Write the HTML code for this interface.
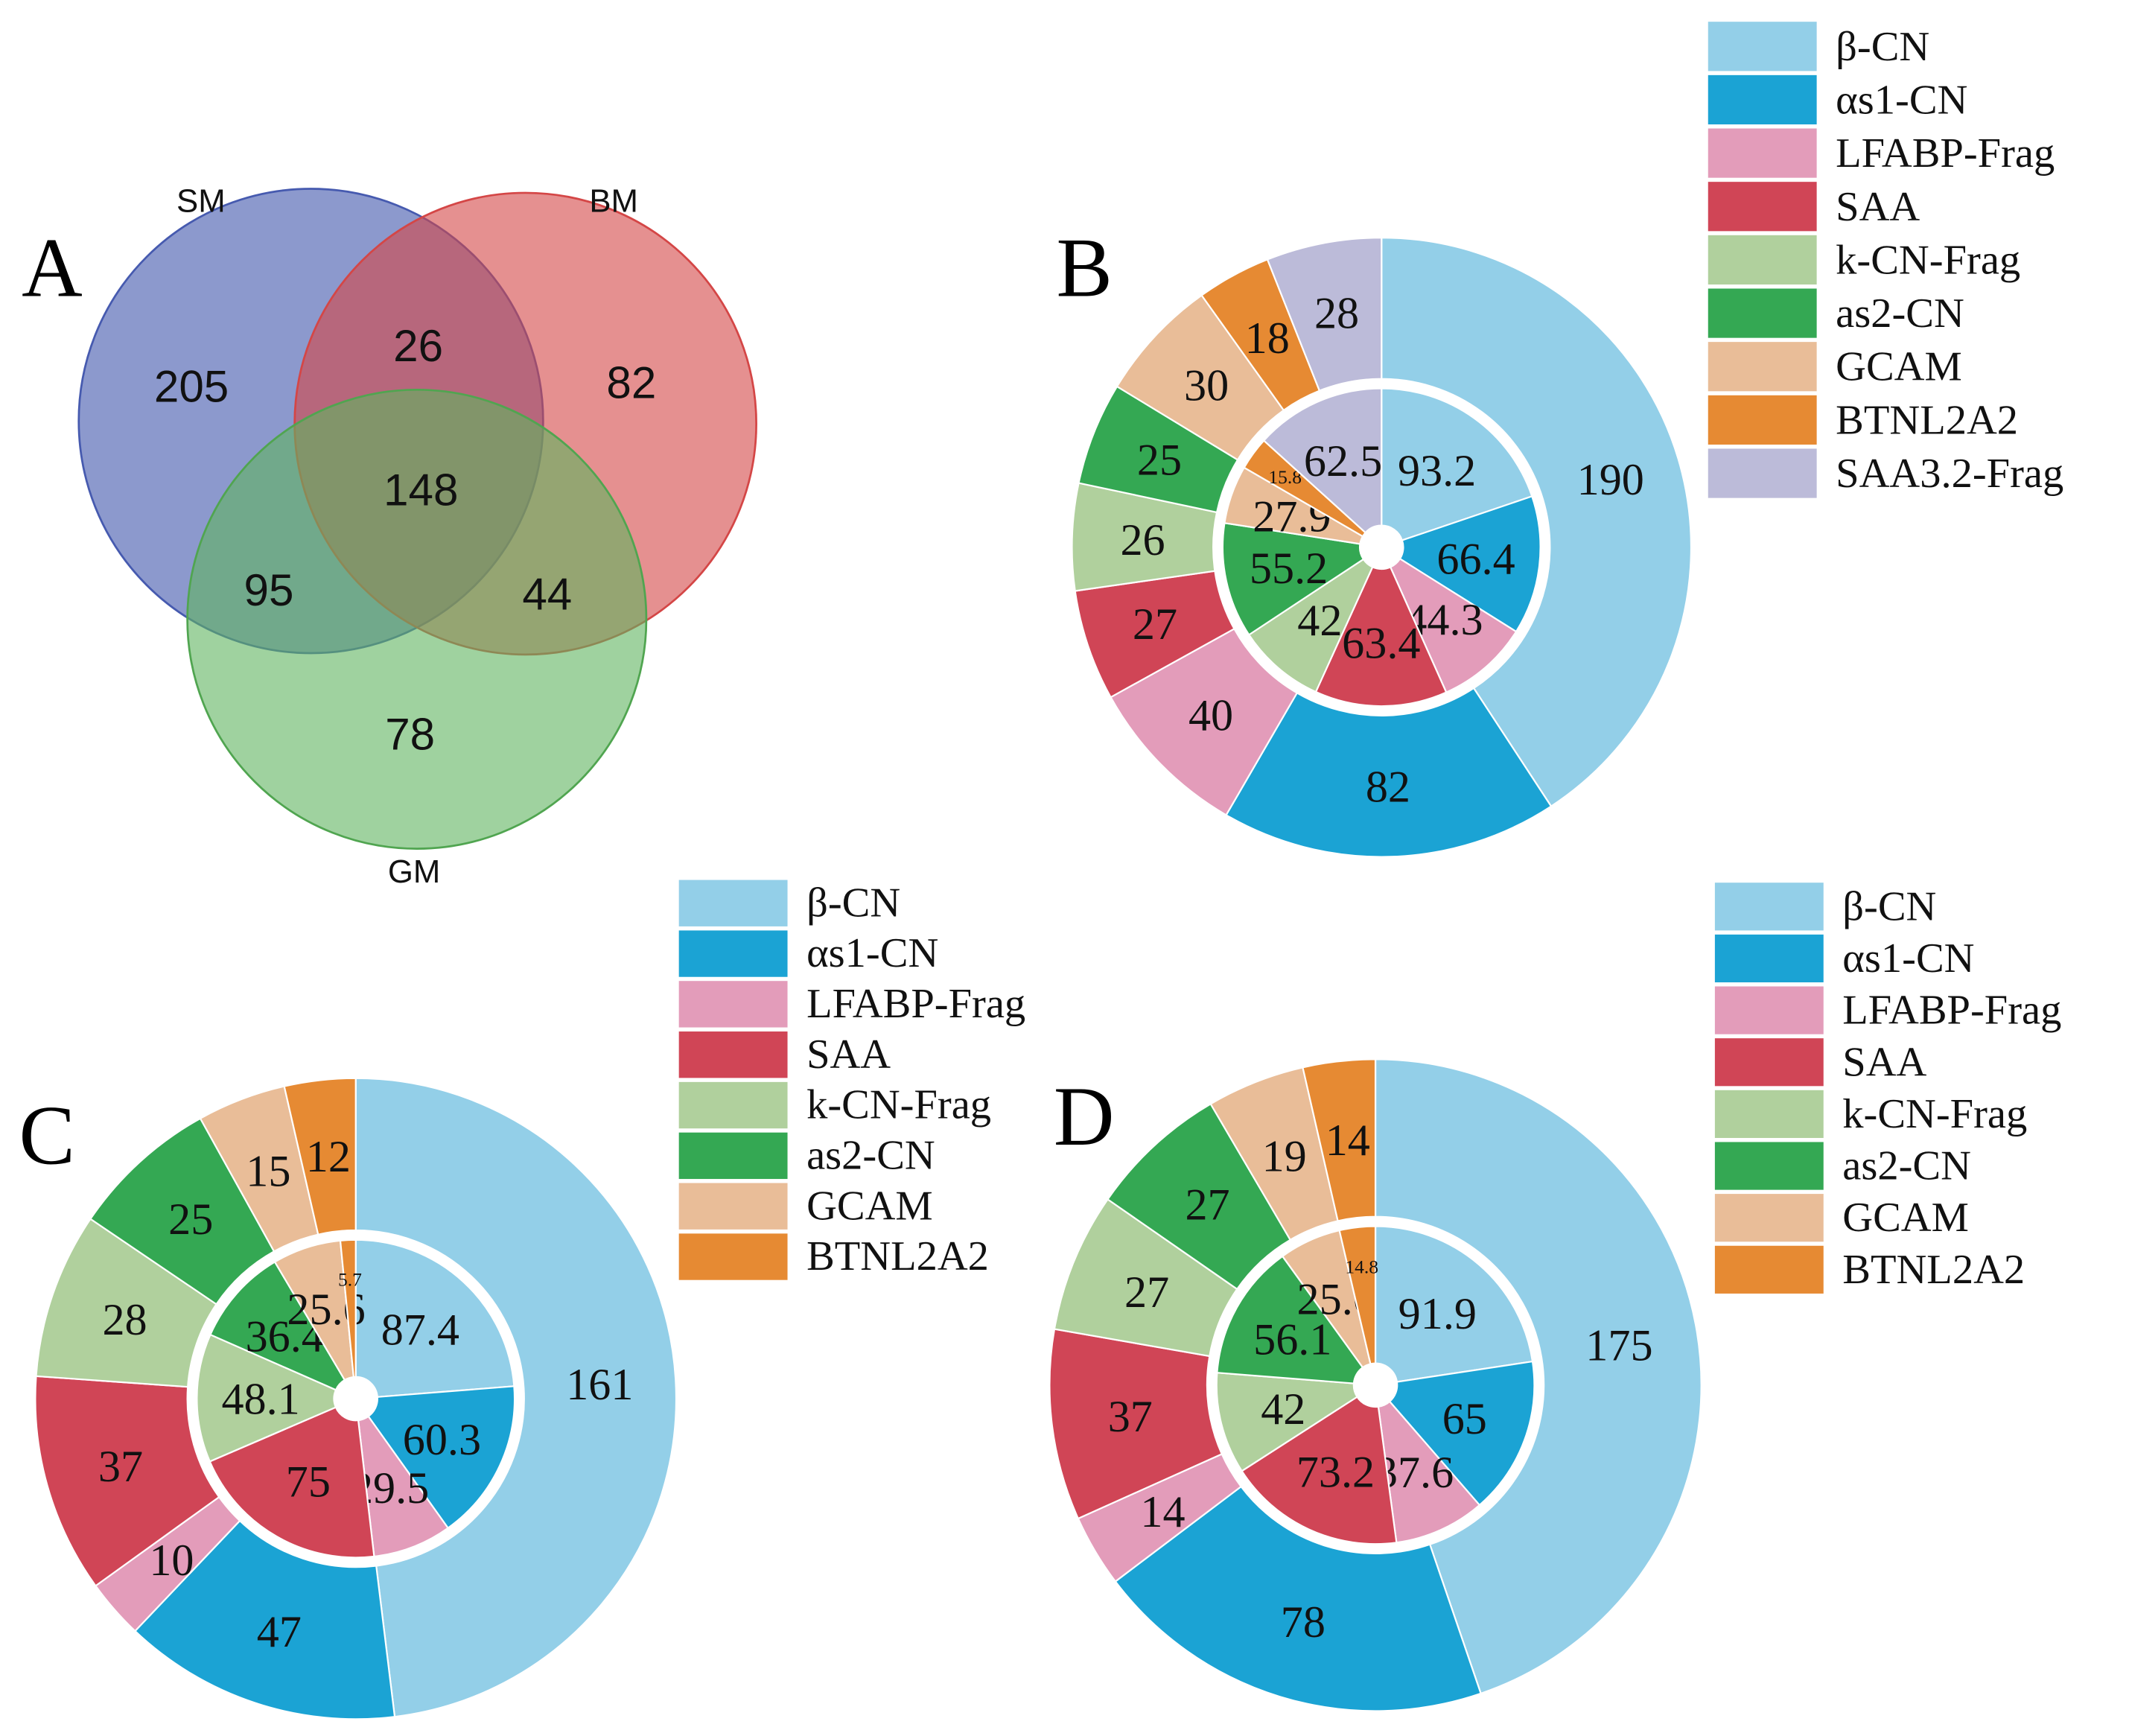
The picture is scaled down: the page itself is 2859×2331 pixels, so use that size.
<!DOCTYPE html>
<html><head><meta charset="utf-8"><style>
html,body{margin:0;padding:0;background:#fff}
svg{display:block}
.num{font-family:"Liberation Serif",serif;fill:#111}
.venn{font-family:"Liberation Sans",sans-serif;fill:#111}
</style></head><body>
<svg id="fig" width="2859" height="2331" viewBox="0 0 1568 1278.4" xmlns="http://www.w3.org/2000/svg">
<g>
<circle cx="229" cy="310" r="171" fill="rgba(70,90,175,0.62)" stroke="rgb(70,90,175)" stroke-width="1.5"/>
<circle cx="387" cy="312" r="170" fill="rgba(212,70,70,0.6)" stroke="rgb(212,70,70)" stroke-width="1.5"/>
<circle cx="307" cy="456" r="169" fill="rgba(95,180,95,0.6)" stroke="rgb(80,165,80)" stroke-width="1.5"/>
<text x="16" y="218" font-family="Liberation Serif,serif" font-size="62">A</text>
<text class="venn" x="148" y="156" font-size="24" text-anchor="middle">SM</text>
<text class="venn" x="452" y="156" font-size="24" text-anchor="middle">BM</text>
<text class="venn" x="305" y="650" font-size="24" text-anchor="middle">GM</text>
<g font-size="33" text-anchor="middle" class="venn">
<text x="141" y="296">205</text>
<text x="308" y="266">26</text>
<text x="465" y="293">82</text>
<text x="310" y="372">148</text>
<text x="198" y="446">95</text>
<text x="403" y="449">44</text>
<text x="302" y="552">78</text>
</g>
</g>
<g id="charts"></g>
</svg>
<script>
const names = ["β-CN","αs1-CN","LFABP-Frag","SAA","k-CN-Frag","as2-CN","GCAM","BTNL2A2","SAA3.2-Frag"];
const colors = ["#93cfe8","#1ba3d4","#e39cba","#d04556","#b0d09d","#34a853","#e9bd98","#e68a33","#bcbbd9"];
const outerB = [190,82,40,27,26,25,30,18,28];
const innerB = [93.2,66.4,44.3,63.4,42,55.2,27.9,15.8,62.5];
const outerC = [161,47,10,37,28,25,15,12];
const innerC = [87.4,60.3,29.5,75,48.1,36.4,25.6,5.7];
const outerD = [175,78,14,37,27,27,19,14];
const innerD = [91.9,65,37.6,73.2,42,56.1,25.6,14.8];
const NS="http://www.w3.org/2000/svg";
const root=document.getElementById('charts');
function mk(tag,attrs,parent){const e=document.createElementNS(NS,tag);for(const k in attrs)e.setAttribute(k,attrs[k]);parent.appendChild(e);return e;}
function pt(cx,cy,r,a){return [cx+r*Math.sin(a),cy-r*Math.cos(a)];}
function sector(cx,cy,r0,r1,a0,a1){
 const large=(a1-a0)>Math.PI?1:0;
 const p0=pt(cx,cy,r1,a0),p1=pt(cx,cy,r1,a1),p2=pt(cx,cy,r0,a1),p3=pt(cx,cy,r0,a0);
 return `M${p0[0]},${p0[1]}A${r1},${r1} 0 ${large} 1 ${p1[0]},${p1[1]}L${p2[0]},${p2[1]}A${r0},${r0} 0 ${large} 0 ${p3[0]},${p3[1]}Z`;
}
function ring(g,vals,cx,cy,r0,r1,prefix,fs,inner){
 const tot=vals.reduce((a,b)=>a+b,0);let a=0;
 vals.forEach((v,i)=>{
  const da=v/tot*2*Math.PI;
  const p=mk('path',{d:sector(cx,cy,r0,r1,a,a+da),fill:colors[i],stroke:'#fff','stroke-width':1.2},g);
  
  
  const rm=inner?(da<0.25?88:70):(r0+r1)/2;
  const q=pt(cx,cy,rm,a+da/2);
  const f=(inner&&da<0.25)?14:fs;
  const t=mk('text',{x:q[0],y:q[1]+f*0.35,'font-size':f,'text-anchor':'middle',class:'num'},g);
  t.textContent=v;
  
  
  a+=da;
 });
}
function panel(key,letter,lx,ly,outer,inner,cx,cy,R,legX,legY,legH,n){
 const g=mk('g',{},root);
 
 
 ring(g,outer,cx,cy,124,R,key+'-outer',33,false);
 ring(g,inner,cx,cy,16,117,key+'-inner',33,true);
 const c=mk('circle',{cx:cx,cy:cy,r:120.5,fill:'none',stroke:'#fff','stroke-width':7},g);
 
 
 const h=mk('circle',{cx:cx,cy:cy,r:16,fill:'#fff'},g);
 
 
 const L=mk('text',{x:lx,y:ly,'font-family':'Liberation Serif,serif','font-size':62},g);
 L.textContent=letter;
 
 
 const lg=mk('g',{},g);
 
 
 for(let i=0;i<n;i++){
  const y=legY+i*legH;
  const r=mk('rect',{x:legX,y:y,width:80,height:legH-3,fill:colors[i]},lg);
  
  
  const t=mk('text',{x:legX+94,y:y+legH*0.72,'font-size':31,class:'num'},lg);
  t.textContent=names[i];
  
  
 }
}
panel('b','B',778,218,outerB,innerB,1017.5,403,228,1258,16,39.3,9);
panel('c','C',14,857,outerC,innerC,262,1030,236,500,648,37.2,8);
panel('d','D',776,843,outerD,innerD,1013,1020,240,1263,650,38.2,8);
</script>
</body></html>
